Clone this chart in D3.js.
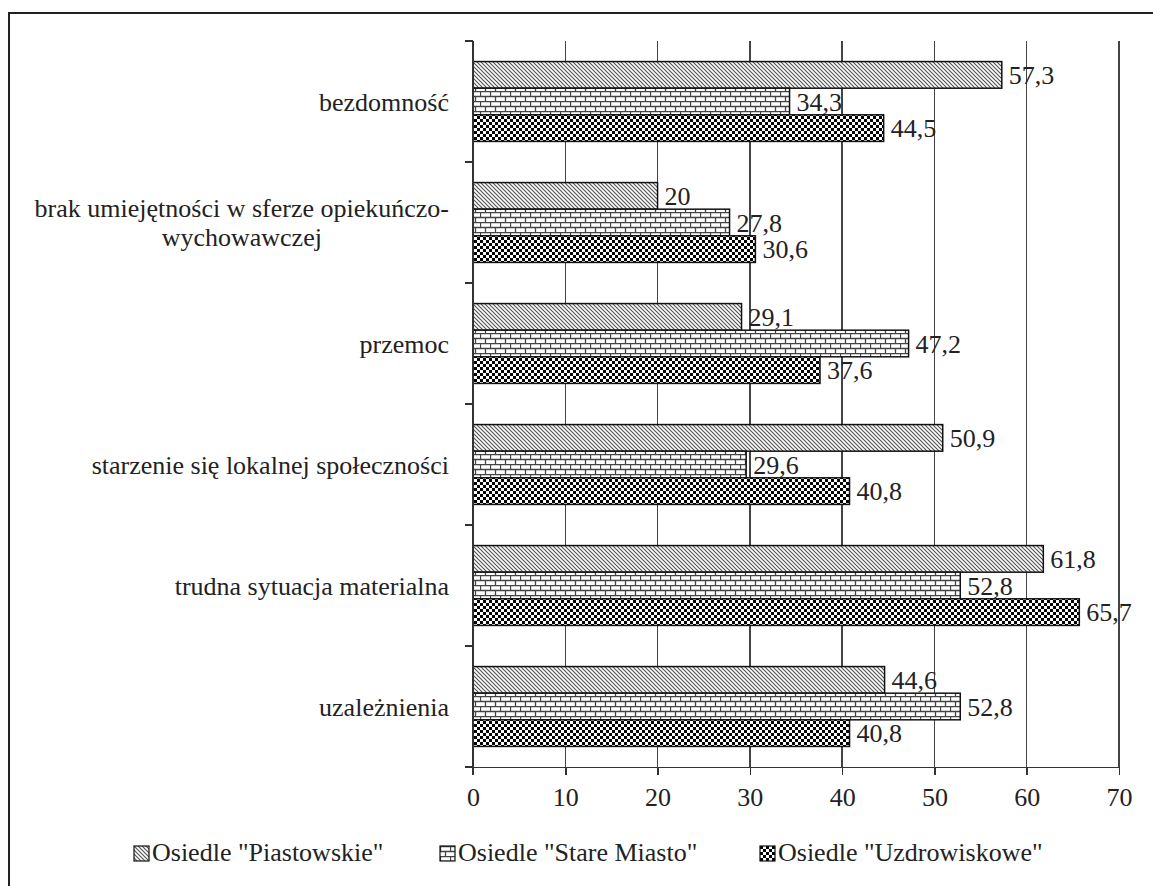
<!DOCTYPE html>
<html lang="pl">
<head>
	<meta charset="UTF-8">
	<title>Problemy osiedli</title>
	<script src="https://d3js.org/d3.v7.min.js"></script>
	<style>
		body {
			margin: 0;
			background-color: white;
		}
		svg {
			display: block;
			background-color: white;
			font-family: "Liberation Serif", "Times New Roman", serif;
		}
		.axis path,
		.axis line {
			stroke: #333;
			stroke-width: 1.5;
			shape-rendering: crispEdges;
		}
		.axis text {
			font-family: "Liberation Serif", serif;
			font-size: 26px;
			fill: #222;
		}
		.grid line {
			stroke: #444;
			stroke-width: 1.5;
			shape-rendering: crispEdges;
		}
		.cat text, .val text, .legend text {
			font-size: 26px;
			fill: #222;
		}
	</style>
</head>
<body>
	<script>
		var categories = ['bezdomność', 'brak umiejętności w sferze opiekuńczo-|wychowawczej', 'przemoc',
			'starzenie się lokalnej społeczności', 'trudna sytuacja materialna', 'uzależnienia'];
		var seriesNames = ['Osiedle "Piastowskie"', 'Osiedle "Stare Miasto"', 'Osiedle "Uzdrowiskowe"'];
		var piastowskie = [57.3, 20, 29.1, 50.9, 61.8, 44.6];
		var stareMiasto = [34.3, 27.8, 47.2, 29.6, 52.8, 52.8];
		var uzdrowiskowe = [44.5, 30.6, 37.6, 40.8, 65.7, 40.8];
		var xTicks = [0, 10, 20, 30, 40, 50, 60, 70];

		var series = [piastowskie, stareMiasto, uzdrowiskowe];
		var fills = ['url(#hatch)', 'url(#brick)', 'url(#checker)'];

		var width = 1153, height = 886;
		var plot = {left: 473, right: 1119, top: 41, bottom: 767};

		var svg = d3.select('body')
			.append('svg')
			.attr('width', width)
			.attr('height', height);

		// patterns
		var defs = svg.append('defs');
		var hatch = defs.append('pattern')
			.attr('id', 'hatch')
			.attr('patternUnits', 'userSpaceOnUse')
			.attr('width', 4).attr('height', 4);
		hatch.append('rect').attr('width', 4).attr('height', 4).attr('fill', '#fff');
		hatch.append('path')
			.attr('d', 'M-1,-1 L5,5 M-1,3 L1,5 M3,-1 L5,1')
			.attr('stroke', '#555').attr('stroke-width', 1.2);

		var brick = defs.append('pattern')
			.attr('id', 'brick')
			.attr('patternUnits', 'userSpaceOnUse')
			.attr('width', 10).attr('height', 10);
		brick.append('rect').attr('width', 10).attr('height', 10).attr('fill', '#fff');
		brick.append('path')
			.attr('d', 'M0,0.5 H10 M0,5.5 H10 M0.5,0 V5 M5.5,5 V10')
			.attr('stroke', '#444').attr('stroke-width', 1.3);

		var checker = defs.append('pattern')
			.attr('id', 'checker')
			.attr('patternUnits', 'userSpaceOnUse')
			.attr('width', 6).attr('height', 6);
		checker.append('rect').attr('width', 6).attr('height', 6).attr('fill', '#fff');
		checker.append('rect').attr('width', 3).attr('height', 3).attr('fill', '#000');
		checker.append('rect').attr('x', 3).attr('y', 3).attr('width', 3).attr('height', 3).attr('fill', '#000');

		// frame
		svg.append('rect')
			.attr('x', 9).attr('y', 13)
			.attr('width', 1300).attr('height', 1000)
			.attr('fill', 'none')
			.attr('stroke', '#222')
			.attr('stroke-width', 2);

		var x = d3.scaleLinear()
			.domain([0, 70])
			.range([plot.left, plot.right]);

		var y = d3.scaleBand()
			.domain(categories)
			.range([plot.top, plot.bottom]);

		var bw = y.bandwidth();
		var ys = d3.scaleBand()
			.domain(d3.range(series.length))
			.range([bw * 0.17, bw * 0.83]);

		// grid
		svg.append('g').attr('class', 'grid')
			.selectAll('line')
			.data(xTicks.slice(1))
			.enter().append('line')
			.attr('x1', function (d) { return x(d); })
			.attr('x2', function (d) { return x(d); })
			.attr('y1', plot.top)
			.attr('y2', plot.bottom);

		// bars
		var groups = svg.append('g').selectAll('g')
			.data(categories)
			.enter().append('g')
			.attr('transform', function (d) { return 'translate(0,' + y(d) + ')'; });

		groups.selectAll('rect')
			.data(function (d, i) {
				return series.map(function (s, k) { return {k: k, v: s[i]}; });
			})
			.enter().append('rect')
			.attr('x', x(0))
			.attr('y', function (d) { return ys(d.k); })
			.attr('width', function (d) { return x(d.v) - x(0); })
			.attr('height', ys.bandwidth())
			.attr('fill', function (d) { return fills[d.k]; })
			.attr('stroke', '#111')
			.attr('stroke-width', 1.5);

		// value labels
		groups.append('g').attr('class', 'val')
			.selectAll('text')
			.data(function (d, i) {
				return series.map(function (s, k) { return {k: k, v: s[i]}; });
			})
			.enter().append('text')
			.attr('x', function (d) { return x(d.v) + 7; })
			.attr('y', function (d) { return ys(d.k) + ys.bandwidth() / 2; })
			.attr('dy', '0.35em')
			.text(function (d) { return String(d.v).replace('.', ','); });

		// axes
		svg.append('g')
			.attr('class', 'axis')
			.attr('transform', 'translate(0,' + plot.bottom + ')')
			.call(d3.axisBottom(x).tickValues(xTicks).tickSize(8).tickSizeOuter(0).tickPadding(13));

		var yAxis = svg.append('g').attr('class', 'axis');
		yAxis.append('line')
			.attr('x1', plot.left).attr('x2', plot.left)
			.attr('y1', plot.top).attr('y2', plot.bottom + 8);
		yAxis.selectAll('line.tk')
			.data(categories.concat(['end']))
			.enter().append('line')
			.attr('class', 'tk')
			.attr('x1', plot.left - 8).attr('x2', plot.left)
			.attr('y1', function (d) { return d === 'end' ? plot.bottom : y(d); })
			.attr('y2', function (d) { return d === 'end' ? plot.bottom : y(d); });

		// category labels
		var cat = svg.append('g').attr('class', 'cat');
		categories.forEach(function (c) {
			var lines = c.split('|');
			var cy = y(c) + bw / 2;
			var g = cat.append('g');
			var texts = lines.map(function (l, i) {
				return g.append('text')
					.attr('y', cy + (i - (lines.length - 1) / 2) * 29)
					.attr('dy', '0.35em')
					.text(l);
			});
			var maxW = d3.max(texts, function (t) { return t.node().getComputedTextLength(); });
			texts.forEach(function (t) {
				t.attr('x', 449 - maxW / 2).attr('text-anchor', 'middle');
			});
		});

		// legend
		var legendX = [134, 440, 760];
		var legend = svg.append('g').attr('class', 'legend')
			.selectAll('g')
			.data(seriesNames)
			.enter().append('g')
			.attr('transform', function (d, i) { return 'translate(' + legendX[i] + ',846)'; });
		legend.append('rect')
			.attr('width', 15).attr('height', 15)
			.attr('fill', function (d, i) { return fills[i]; })
			.attr('stroke', '#111').attr('stroke-width', 1.2);
		legend.append('text')
			.attr('x', 18).attr('y', 15)
			.text(function (d) { return d; });
	</script>
</body>
</html>
